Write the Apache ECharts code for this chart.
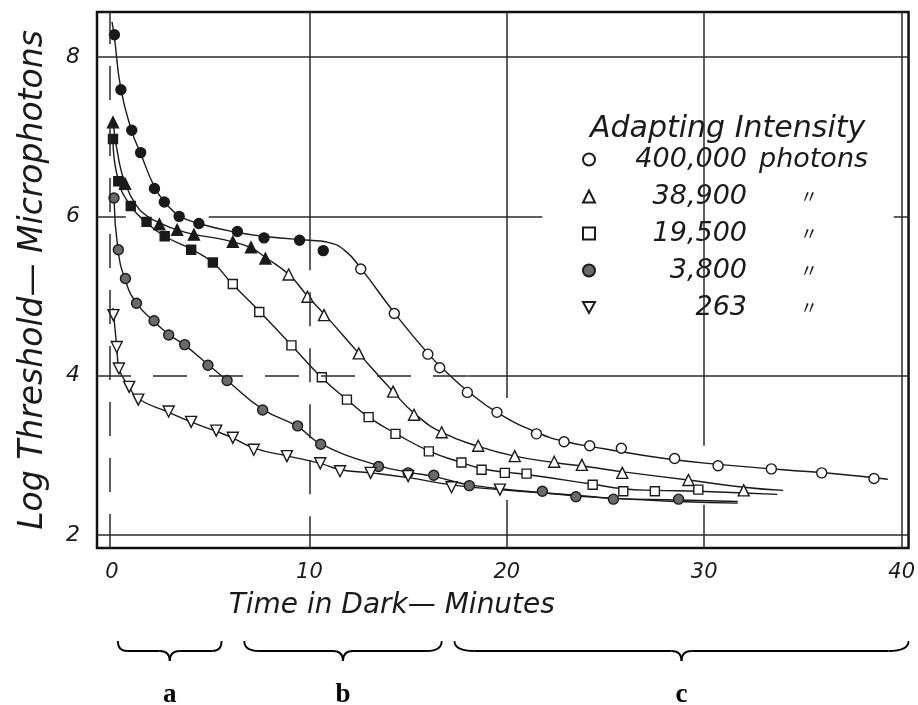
<!DOCTYPE html>
<html>
<head>
<meta charset="utf-8">
<script src="https://cdn.jsdelivr.net/npm/echarts@6/dist/echarts.min.js"></script>
<style>
  html, body { margin: 0; padding: 0; background: #fff; }
  #chart { width: 918px; height: 705px; }
</style>
</head>
<body>
<div id="chart"></div>
<script>
// adapting intensity groups, legend order
const intensities = ["400,000", "38,900", "19,500", "3,800", "263"];
const units = ["photons", "\u3003", "\u3003", "\u3003", "\u3003"];

// measured points (time in dark, minutes / log threshold)
const t400 = [0.12, 0.45, 1.0, 1.45, 2.15, 2.65, 3.4, 4.4, 6.35, 7.7, 9.5, 10.7, 12.6, 14.3, 16.0, 16.6, 18.0, 19.5, 21.5, 22.9, 24.2, 25.8, 28.5, 30.7, 33.4, 35.95, 38.6];
const v400 = [8.28, 7.59, 7.08, 6.80, 6.35, 6.18, 6.00, 5.91, 5.81, 5.73, 5.70, 5.57, 5.34, 4.78, 4.27, 4.10, 3.79, 3.54, 3.27, 3.17, 3.12, 3.09, 2.96, 2.87, 2.83, 2.78, 2.71];
const t389 = [0.05, 0.66, 2.4, 3.3, 4.15, 6.12, 7.04, 7.77, 8.95, 9.9, 10.74, 12.5, 14.24, 15.3, 16.7, 18.55, 20.4, 22.4, 23.8, 25.85, 29.2, 32.0];
const v389 = [7.18, 6.41, 5.90, 5.83, 5.77, 5.68, 5.61, 5.47, 5.27, 4.99, 4.76, 4.28, 3.80, 3.51, 3.29, 3.12, 2.99, 2.92, 2.88, 2.78, 2.69, 2.56];
const t195 = [0.05, 0.32, 0.95, 1.75, 2.67, 4.01, 5.11, 6.12, 7.46, 9.09, 10.63, 11.9, 13.0, 14.36, 16.05, 17.7, 18.72, 19.9, 21.0, 24.35, 25.9, 27.5, 29.7];
const v195 = [6.97, 6.44, 6.13, 5.93, 5.75, 5.58, 5.42, 5.15, 4.80, 4.38, 3.98, 3.70, 3.48, 3.27, 3.05, 2.91, 2.82, 2.78, 2.77, 2.63, 2.55, 2.55, 2.57];
const t38 = [0.1, 0.32, 0.68, 1.24, 2.13, 2.87, 3.68, 4.86, 5.83, 7.63, 9.4, 10.57, 13.5, 15.0, 16.3, 18.1, 21.8, 23.5, 25.4, 28.7];
const v38 = [6.23, 5.58, 5.22, 4.91, 4.69, 4.51, 4.39, 4.13, 3.94, 3.57, 3.37, 3.14, 2.86, 2.78, 2.75, 2.62, 2.55, 2.48, 2.45, 2.45];
const t263 = [0.07, 0.24, 0.35, 0.87, 1.33, 2.87, 4.01, 5.28, 6.12, 7.18, 8.86, 10.55, 11.55, 13.1, 15.0, 17.2, 19.65];
const v263 = [4.76, 4.36, 4.09, 3.86, 3.70, 3.55, 3.42, 3.31, 3.22, 3.07, 2.99, 2.90, 2.80, 2.78, 2.74, 2.60, 2.57];
// how many of the first points are drawn solid
const filledCount = [12, 8, 7, 0, 0];

// the drawn (fitted) curves
const c400t = [0.0, 0.12, 0.45, 1.0, 1.45, 2.15, 2.7, 3.4, 4.4, 6.3, 8.0, 10.0, 11.0, 11.8, 12.6, 14.3, 16.0, 17.0, 18.0, 19.5, 21.5, 23.0, 25.0, 28.0, 31.0, 34.0, 37.0, 39.3];
const c400v = [8.44, 8.25, 7.6, 7.07, 6.79, 6.37, 6.17, 6.01, 5.91, 5.80, 5.74, 5.70, 5.67, 5.57, 5.35, 4.79, 4.28, 4.03, 3.81, 3.54, 3.29, 3.17, 3.08, 2.96, 2.88, 2.82, 2.76, 2.70];
const c389t = [0.05, 0.35, 0.66, 1.2, 1.8, 2.5, 3.3, 4.2, 5.2, 6.1, 7.0, 7.8, 9.0, 9.9, 10.8, 12.5, 14.2, 15.3, 16.7, 18.6, 20.4, 22.4, 24.0, 26.0, 29.2, 32.0, 34.0];
const c389v = [7.18, 6.7, 6.42, 6.15, 6.0, 5.91, 5.83, 5.77, 5.73, 5.68, 5.61, 5.48, 5.26, 5.0, 4.76, 4.28, 3.81, 3.53, 3.29, 3.11, 2.99, 2.91, 2.86, 2.79, 2.69, 2.60, 2.56];
const c195t = [0.05, 0.32, 0.95, 1.7, 2.67, 4.0, 5.1, 6.1, 7.5, 9.1, 10.6, 11.9, 13.0, 14.4, 16.1, 17.7, 18.8, 19.9, 21.0, 24.3, 25.9, 27.5, 29.7, 33.7];
const c195v = [6.96, 6.45, 6.13, 5.93, 5.75, 5.59, 5.42, 5.15, 4.80, 4.38, 3.98, 3.70, 3.48, 3.27, 3.05, 2.91, 2.83, 2.79, 2.76, 2.64, 2.58, 2.56, 2.55, 2.51];
const c38t = [0.1, 0.3, 0.66, 1.24, 2.13, 2.87, 3.7, 4.86, 5.83, 7.63, 9.4, 10.6, 13.5, 15.0, 16.4, 18.1, 21.8, 23.6, 25.4, 28.7, 31.7];
const c38v = [6.23, 5.59, 5.21, 4.91, 4.68, 4.52, 4.38, 4.14, 3.94, 3.58, 3.36, 3.14, 2.87, 2.79, 2.73, 2.63, 2.53, 2.49, 2.46, 2.44, 2.42];
const c263t = [0.05, 0.24, 0.35, 0.87, 1.33, 2.87, 4.0, 5.3, 6.1, 7.2, 8.9, 10.55, 11.55, 13.1, 15.0, 17.2, 19.6, 23.5, 25.4, 28.7, 31.7];
const c263v = [4.85, 4.36, 4.1, 3.86, 3.71, 3.54, 3.42, 3.30, 3.22, 3.09, 2.99, 2.90, 2.82, 2.78, 2.72, 2.63, 2.57, 2.50, 2.46, 2.42, 2.40];

const xTicks = [0, 10, 20, 30, 40];
const yTicks = [2, 4, 6, 8];
// phases marked under the time axis (minutes)
const phaseNames = ["a", "b", "c"];
const phaseFrom = [0.3, 6.7, 17.35];
const phaseTo = [5.55, 16.7, 40.35];

const X_MIN = -0.76, X_MAX = 40.35, Y_MIN = 1.837, Y_MAX = 8.565;
const FONT = "'DejaVu Sans', 'Liberation Sans', sans-serif";
const INK = "#1a1a1a";

const points = [[t400, v400], [t389, v389], [t195, v195], [t38, v38], [t263, v263]];
const curves = [[c400t, c400v], [c389t, c389v], [c195t, c195v], [c38t, c38v], [c263t, c263v]];
const looks = [
  { symbol: "circle", size: 10, fill: "#fff" },
  { symbol: "triangle", size: 11, fill: "#fff" },
  { symbol: "rect", size: 9, fill: "#fff" },
  { symbol: "circle", size: 10, fill: "#6a6a6a" },
  { symbol: "path://M0,0L12,0L6,11Z", size: 11, fill: "#fff" },
];

// grid rulings of the drawing: [x1, y1, x2, y2, dashed]
const rulings = [
  [X_MIN, 8, X_MAX, 8, false],
  [X_MIN, 6, 0.7, 6, false],
  [4.9, 6, 21.8, 6, false],
  [39.6, 6, X_MAX, 6, false],
  [X_MIN, 4, 18.0, 4, true],
  [18.0, 4, X_MAX, 4, false],
  [X_MIN, 2, X_MAX, 2, false],
  [-0.1, Y_MIN, -0.1, Y_MAX, true],
  [10, Y_MAX, 10, 5.75, false],
  [10, 5.75, 10, Y_MIN, true],
  [20, Y_MAX, 20, 3.72, false],
  [20, 2.44, 20, Y_MIN, false],
  [30, Y_MAX, 30, 3.12, false],
  [30, 2.38, 30, Y_MIN, false],
  [40, Y_MIN, 40, Y_MAX, false],
];

const series = [];
intensities.forEach((name, i) => {
  const [ct, cv] = curves[i];
  const line = {
    name: name + " fit",
    type: "line",
    data: ct.map((t, k) => [t, cv[k]]),
    smooth: 0.5,
    symbol: "none",
    lineStyle: { color: INK, width: 1.4 },
    silent: true,
    z: 2,
  };
  if (i === 0) {
    line.markLine = {
      silent: true,
      symbol: ["none", "none"],
      label: { show: false },
      animation: false,
      data: rulings.map((r) => [
        { coord: [r[0], r[1]], lineStyle: { color: "#2a2a2a", width: 1.5, type: r[4] ? [34, 22] : "solid" } },
        { coord: [r[2], r[3]] },
      ]),
    };
  }
  series.push(line);

  const [pt, pv] = points[i];
  const lk = looks[i];
  series.push({
    name: name,
    type: "scatter",
    symbol: lk.symbol,
    symbolSize: lk.size,
    itemStyle: { color: lk.fill, borderColor: INK, borderWidth: 1.4, opacity: 1 },
    data: pt.map((t, k) => (k < filledCount[i] ? { value: [t, pv[k]], itemStyle: { color: INK } } : [t, pv[k]])),
    z: 3,
  });
});

// right-align the legend numbers by measuring them
const NUM_BOX = 147;
const measure = document.createElement("canvas").getContext("2d");
measure.font = "italic 27px 'DejaVu Sans'";
const rich = {
  unit: { padding: [0, 0, 0, 12], fontFamily: FONT, fontStyle: "italic", fontSize: 27, lineHeight: 24, color: INK },
  ditto: { padding: [0, 0, 0, 53], fontFamily: "'Noto Sans CJK JP', " + FONT, fontSize: 18, lineHeight: 24, color: INK },
};
intensities.forEach((name, i) => {
  const w = measure.measureText(name).width;
  rich["n" + i] = {
    padding: [0, 0, 0, Math.max(0, NUM_BOX - w)],
    fontFamily: FONT, fontStyle: "italic", fontSize: 27, lineHeight: 24, color: INK,
  };
});

const chart = echarts.init(document.getElementById("chart"));
chart.setOption({
  animation: false,
  backgroundColor: "#fff",
  title: {
    text: "Adapting Intensity",
    left: 585,
    top: 109,
    textStyle: { fontFamily: FONT, fontStyle: "italic", fontWeight: "normal", fontSize: 30, color: INK },
  },
  legend: {
    data: intensities,
    orient: "vertical",
    left: 577,
    top: 141,
    itemGap: 10,
    itemWidth: 12,
    itemHeight: 12,
    selectedMode: false,
    formatter: (name) => {
      const i = intensities.indexOf(name);
      const u = units[i];
      return "{n" + i + "|" + name + "}" + (u === "photons" ? "{unit|" + u + "}" : "{ditto|" + u + "}");
    },
    textStyle: { color: INK, rich: rich },
  },
  grid: {
    left: 97,
    right: 6,
    top: 12,
    bottom: 157,
    show: true,
    borderColor: "#111",
    borderWidth: 2.5,
    backgroundColor: "transparent",
  },
  xAxis: {
    type: "value",
    min: X_MIN,
    max: X_MAX,
    splitLine: { show: false },
    axisLine: { show: false },
    axisTick: { show: false },
    axisLabel: {
      customValues: xTicks,
      margin: 14,
      fontFamily: FONT,
      fontStyle: "italic",
      fontSize: 21,
      color: INK,
    },
    name: "Time in Dark\u2014 Minutes",
    nameLocation: "middle",
    nameGap: 44,
    nameTextStyle: { fontFamily: FONT, fontStyle: "italic", fontSize: 28, color: INK, padding: [0, 222, 0, 0] },
  },
  yAxis: {
    type: "value",
    min: Y_MIN,
    max: Y_MAX,
    splitLine: { show: false },
    axisLine: { show: false },
    axisTick: { show: false },
    axisLabel: {
      customValues: yTicks,
      margin: 17,
      fontFamily: FONT,
      fontStyle: "italic",
      fontSize: 22,
      color: INK,
    },
    name: "Log Threshold\u2014 Microphotons",
    nameLocation: "middle",
    nameRotate: 90,
    nameGap: 47,
    nameTextStyle: { fontFamily: FONT, fontStyle: "italic", fontSize: 33, color: INK },
  },
  series: series,
});

// braces under the time axis, placed through the x scale
const braceTop = 641, braceMid = 651, braceTip = 661, labelY = 695;
const graphics = [];
phaseNames.forEach((lab, i) => {
  const x1 = chart.convertToPixel({ xAxisIndex: 0 }, phaseFrom[i]);
  const x2 = chart.convertToPixel({ xAxisIndex: 0 }, phaseTo[i]);
  const xm = (x1 + x2) / 2;
  const r = Math.min(20, (x2 - x1) * 0.06 + 3);
  const c = 10;
  const st = { stroke: "#000", lineWidth: 1.8, fill: null };
  graphics.push(
    { type: "bezierCurve", shape: { x1: x1, y1: braceTop, cpx1: x1, cpy1: braceMid, x2: x1 + r, y2: braceMid }, style: st },
    { type: "line", shape: { x1: x1 + r, y1: braceMid, x2: xm - c, y2: braceMid }, style: st },
    { type: "bezierCurve", shape: { x1: xm - c, y1: braceMid, cpx1: xm, cpy1: braceMid, x2: xm, y2: braceTip }, style: st },
    { type: "bezierCurve", shape: { x1: xm, y1: braceTip, cpx1: xm, cpy1: braceMid, x2: xm + c, y2: braceMid }, style: st },
    { type: "line", shape: { x1: xm + c, y1: braceMid, x2: x2 - r, y2: braceMid }, style: st },
    { type: "bezierCurve", shape: { x1: x2 - r, y1: braceMid, cpx1: x2, cpy1: braceMid, x2: x2, y2: braceTop }, style: st },
    {
      type: "text",
      x: xm,
      y: labelY,
      style: {
        text: lab,
        fontFamily: "'Liberation Serif', 'DejaVu Serif', serif",
        fontWeight: "bold",
        fontSize: 27,
        fill: "#000",
        align: "center",
        verticalAlign: "middle",
      },
    }
  );
});
chart.setOption({ graphic: graphics });
</script>
</body>
</html>
